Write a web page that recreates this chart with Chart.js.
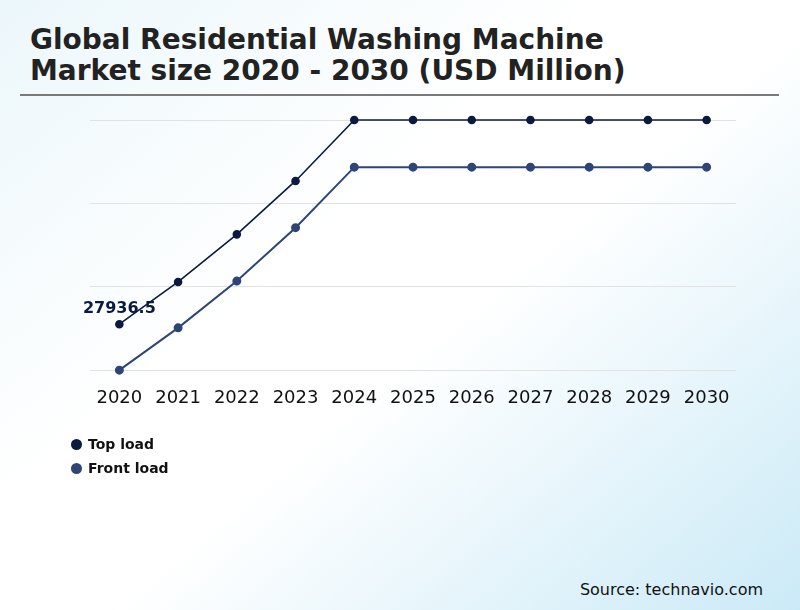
<!DOCTYPE html>
<html>
<head>
<meta charset="utf-8">
<script src="https://cdn.jsdelivr.net/npm/chart.js@4.4.1/dist/chart.umd.min.js"></script>
<style>
    html, body { margin: 0; padding: 0; }
    body {
        width: 800px; height: 610px; position: relative; overflow: hidden;
        font-family: "DejaVu Sans", sans-serif;
        background: linear-gradient(140deg, #ecf7fb 0%, #ffffff 40%, #ffffff 55%, #cbeaf7 100%);
    }
    #title {
        position: absolute; left: 30px; top: 24px; margin: 0;
        font-size: 28px; line-height: 31px; font-weight: bold; color: #222;
    }
    #rule { position: absolute; left: 20px; top: 94px; width: 759px; height: 2px; background: #7a7a7a; }
    #chartBox { position: absolute; left: 0; top: 100px; width: 800px; height: 337px; }
    #legend { position: absolute; left: 71px; top: 432px; }
    .item { display: flex; align-items: center; height: 24px; font-size: 14px; font-weight: bold; color: #111; }
    .dot { width: 11px; height: 11px; border-radius: 50%; margin-right: 6px; }
    #source { position: absolute; right: 37px; top: 580px; font-size: 16px; color: #111; }
</style>
</head>
<body>
<h1 id="title">Global Residential Washing Machine<br>Market size 2020 - 2030 (USD Million)</h1>
<div id="rule"></div>
<div id="chartBox"><canvas id="chart"></canvas></div>
<div id="legend"></div>
<div id="source">Source: technavio.com</div>

<script>
// ================= DATA =================

const years = ["2020", "2021", "2022", "2023", "2024", "2025", "2026", "2027", "2028", "2029", "2030"];
const topLoad = [27936.5, 33000, 38700, 45100, 52400, 52400, 52400, 52400, 52400, 52400, 52400];
const frontLoad = [22430, 27500, 33100, 39500, 46750, 46750, 46750, 46750, 46750, 46750, 46750];

const seriesNames = ["Top load", "Front load"];
const seriesColors = ["#0b1a3e", "#2f4477"];

// ================= LABEL PLUGIN =================

// writes the first value of the top series above its point
const firstValueLabel = {
    id: "firstValueLabel",
    afterDatasetsDraw(chart) {
        const pt = chart.getDatasetMeta(0).data[0];
        if (!pt) return;
        const ctx = chart.ctx;
        ctx.save();
        ctx.font = "bold 16px 'DejaVu Sans'";
        ctx.fillStyle = seriesColors[0];
        ctx.textAlign = "center";
        ctx.textBaseline = "bottom";
        ctx.fillText(String(topLoad[0]), pt.x, pt.y - 7);
        ctx.restore();
    },
};

// ================= CHART =================

const chart = new Chart(document.getElementById("chart"), {
    type: "line",
    data: {
        labels: years,
        datasets: [
            {
                label: seriesNames[0],
                data: topLoad,
                borderColor: seriesColors[0],
                backgroundColor: seriesColors[0],
                borderWidth: 1.6,
                pointRadius: 3.5,
                pointHoverRadius: 3.5,
                tension: 0,
                clip: false,
            },
            {
                label: seriesNames[1],
                data: frontLoad,
                borderColor: seriesColors[1],
                backgroundColor: seriesColors[1],
                borderWidth: 2,
                pointRadius: 3.5,
                pointHoverRadius: 3.5,
                tension: 0,
                clip: false,
            },
        ],
    },
    options: {
        responsive: true,
        maintainAspectRatio: false,
        animation: false,
        layout: { padding: { top: 20, left: 90, right: 64, bottom: 11 } },
        plugins: { legend: { display: false }, tooltip: { enabled: false } },
        scales: {
            x: {
                offset: true,
                grid: { display: false, drawTicks: false },
                border: { display: false },
                ticks: { color: "#111", font: { family: "DejaVu Sans", size: 18 }, padding: 17, maxRotation: 0 },
            },
            y: {
                min: 22400,
                max: 52400,
                grid: { color: "#e2e2e2", drawTicks: false },
                border: { display: false },
                ticks: { display: false, stepSize: 10000 },
            },
        },
    },
    plugins: [firstValueLabel],
});

// ================= LEGEND =================

const legendEl = document.getElementById("legend");
chart.data.datasets.forEach((ds) => {
    const row = document.createElement("div");
    row.className = "item";
    row.innerHTML = `<span class="dot" style="background:${ds.borderColor}"></span>${ds.label}`;
    legendEl.appendChild(row);
});
</script>
</body>
</html>
